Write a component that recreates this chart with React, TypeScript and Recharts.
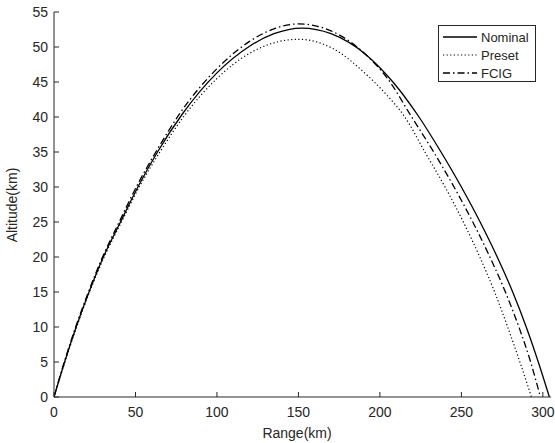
import { LineChart, Line, XAxis, YAxis } from 'recharts';

// Nominal trajectory (range km, altitude km)
const nominalRange = [0, 6.5, 13.6, 21.5, 30.3, 40.8, 51.5, 63.5, 79, 100, 120, 135, 152, 170, 192, 208, 224, 237.5, 250, 261.5, 272, 281.5, 289.8, 297.2, 304];
const nominalAlt = [0, 5, 10, 15, 20, 25, 30, 35, 40.5, 46.3, 50.1, 51.9, 52.7, 51.9, 48.8, 45, 40, 35, 30, 25, 20, 15, 10, 5, 0];

const presetRange = [0, 6.7, 13.9, 21.8, 30.8, 41.4, 52.3, 65, 80, 100, 120, 135, 150, 171, 192, 204, 215.3, 227.6, 240, 251.2, 261.3, 270.4, 278.4, 285.9, 293];
const presetAlt = [0, 5, 10, 15, 20, 25, 30, 35, 40.2, 45.5, 49.1, 50.6, 51.1, 49.8, 46, 43.2, 40, 35, 30, 25, 20, 15, 10, 5, 0];

const fcigRange = [0, 6.3, 13.3, 21.1, 29.8, 40, 50.5, 62.5, 77.5, 100, 120, 135, 150, 170, 190, 205, 219.5, 233, 245.5, 257, 267.5, 277, 285.3, 292.5, 298.5];
const fcigAlt = [0, 5, 10, 15, 20, 25, 30, 35, 40.6, 46.9, 50.8, 52.6, 53.3, 52.3, 49.2, 45.4, 40, 35, 30, 25, 20, 15, 10, 5, 0];

const xTicks = [0, 50, 100, 150, 200, 250, 300];
const yTicks = [0, 5, 10, 15, 20, 25, 30, 35, 40, 45, 50, 55];

const toRows = (xs: number[], ys: number[]) => xs.map((x, i) => ({ x, y: ys[i] }));

const INK = '#262626';
const FONT = 'Liberation Sans, Arial, sans-serif';

const series = [
  { name: 'Nominal', data: toRows(nominalRange, nominalAlt), dash: undefined as string | undefined, width: 1.3 },
  { name: 'Preset', data: toRows(presetRange, presetAlt), dash: '1.2 2.4', width: 1.2 },
  { name: 'FCIG', data: toRows(fcigRange, fcigAlt), dash: '7 3 1.5 3', width: 1.3 },
];

const BottomTick = ({ x, y, payload }: any) => (
  <g>
    <line x1={x} y1={y} x2={x} y2={y - 5} stroke={INK} />
    <text x={x} y={y + 20} textAnchor="middle" fill={INK} fontSize={14} fontFamily={FONT}>{payload.value}</text>
  </g>
);
const LeftTick = ({ x, y, payload }: any) => (
  <g>
    <line x1={x} y1={y} x2={x + 5} y2={y} stroke={INK} />
    <text x={x - 6} y={y + 5} textAnchor="end" fill={INK} fontSize={14} fontFamily={FONT}>{payload.value}</text>
  </g>
);
const TopTick = ({ x, y }: any) => <line x1={x} y1={y} x2={x} y2={y + 5} stroke={INK} />;
const RightTick = ({ x, y }: any) => <line x1={x} y1={y} x2={x - 5} y2={y} stroke={INK} />;

// legend drawn outside the chart so it reserves no plot space
const LegendBox = () => (
  <svg width={98} height={58} style={{ position: 'absolute', left: 438, top: 25 }}>
    <rect x={0.5} y={0.5} width={97} height={56} fill="#fff" stroke={INK} />
    {series.map((s, i) => (
      <g key={s.name}>
        <line x1={5} x2={39} y1={12 + i * 18} y2={12 + i * 18} stroke="#000" strokeWidth={s.width} strokeDasharray={s.dash} />
        <text x={43} y={17 + i * 18} fontSize={13} fill={INK} fontFamily={FONT}>{s.name}</text>
      </g>
    ))}
  </svg>
);

export default function App() {
  return (
    <div style={{ position: 'fixed', left: 0, top: 0, width: 555, height: 443, background: '#fff' }}>
      <LineChart width={555} height={443} margin={{ top: 12, right: 4, left: 0, bottom: 0 }}>
        <XAxis
          xAxisId="b"
          type="number"
          dataKey="x"
          domain={[0, 305]}
          ticks={xTicks}
          allowDataOverflow
          height={46}
          tickSize={0}
          tickMargin={0}
          tickLine={false}
          tick={<BottomTick />}
          axisLine={{ stroke: INK }}
          label={() => (
            <text x={297} y={438} textAnchor="middle" fill={INK} fontSize={14} fontFamily={FONT}>Range(km)</text>
          )}
        />
        <XAxis
          xAxisId="t"
          orientation="top"
          type="number"
          dataKey="x"
          domain={[0, 305]}
          ticks={xTicks}
          allowDataOverflow
          height={0}
          tickSize={0}
          tickMargin={0}
          tickLine={false}
          tick={<TopTick />}
          axisLine={{ stroke: INK }}
        />
        <YAxis
          yAxisId="l"
          type="number"
          domain={[0, 55]}
          ticks={yTicks}
          width={54}
          tickSize={0}
          tickMargin={0}
          tickLine={false}
          tick={<LeftTick />}
          axisLine={{ stroke: INK }}
          label={() => (
            <text x={17} y={205} transform="rotate(-90 17 205)" textAnchor="middle" fill={INK} fontSize={14} fontFamily={FONT}>Altitude(km)</text>
          )}
        />
        <YAxis
          yAxisId="r"
          orientation="right"
          type="number"
          domain={[0, 55]}
          ticks={yTicks}
          width={0}
          tickSize={0}
          tickMargin={0}
          tickLine={false}
          tick={<RightTick />}
          axisLine={{ stroke: INK }}
        />
        {series.map(s => (
          <Line
            key={s.name}
            xAxisId="b"
            yAxisId="l"
            data={s.data}
            dataKey="y"
            name={s.name}
            type="monotone"
            stroke="#000"
            strokeWidth={s.width}
            strokeDasharray={s.dash}
            dot={false}
            activeDot={false}
            isAnimationActive={false}
          />
        ))}
      </LineChart>
      <LegendBox />
    </div>
  );
}
